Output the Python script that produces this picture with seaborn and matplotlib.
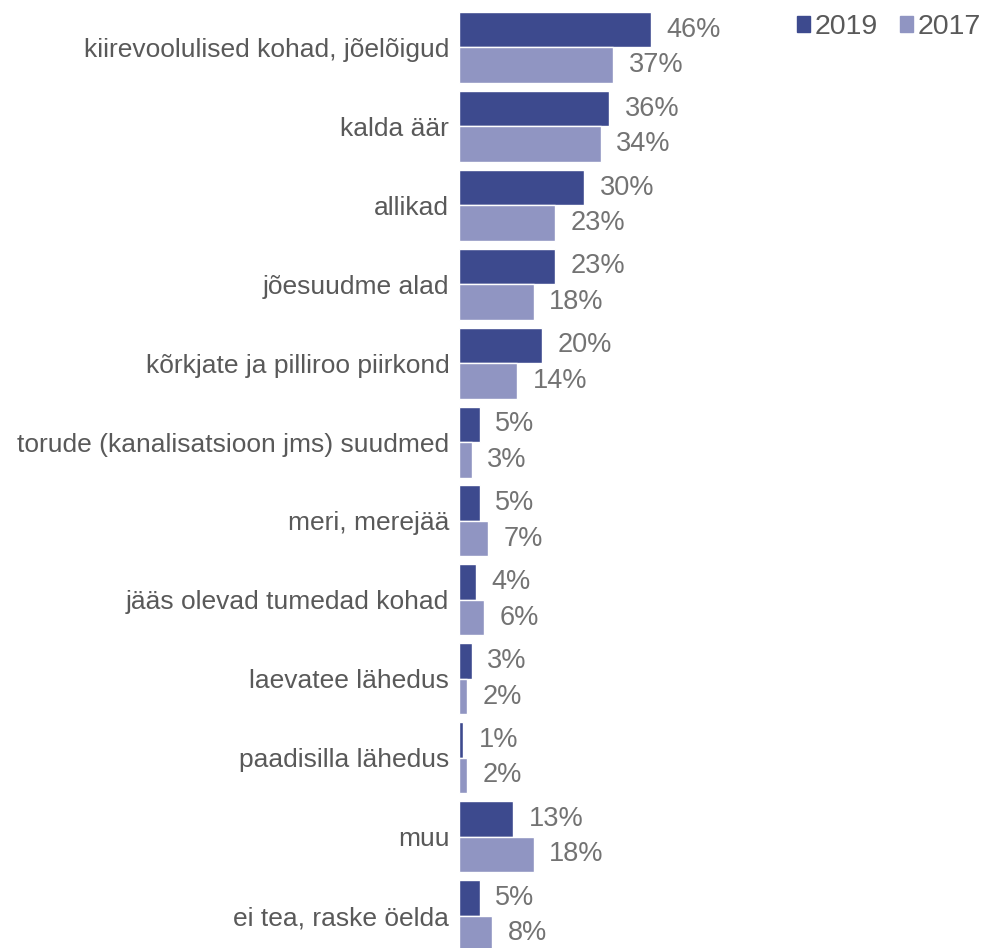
import pandas as pd
import matplotlib.pyplot as plt
import seaborn as sns
from matplotlib.patches import Patch

# andmed
kohad = ['kiirevoolulised kohad, jõelõigud', 'kalda äär', 'allikad', 'jõesuudme alad',
         'kõrkjate ja pilliroo piirkond', 'torude (kanalisatsioon jms) suudmed', 'meri, merejää',
         'jääs olevad tumedad kohad', 'laevatee lähedus', 'paadisilla lähedus', 'muu',
         'ei tea, raske öelda']
aasta_2019 = [46, 36, 30, 23, 20, 5, 5, 4, 3, 1, 13, 5]
aasta_2017 = [37, 34, 23, 18, 14, 3, 7, 6, 2, 2, 18, 8]
aastad = ['2019', '2017']

df = pd.DataFrame({
    'koht': kohad * 2,
    'protsent': aasta_2019 + aasta_2017,
    'aasta': [aastad[0]] * len(kohad) + [aastad[1]] * len(kohad),
})

sns.set_theme(style='white')
plt.rcParams['font.family'] = ['Liberation Sans', 'DejaVu Sans']

fig = plt.figure(figsize=(9.83, 9.48), dpi=100)
ax = fig.add_axes([459 / 983, -7 / 948, 524 / 983, 947 / 948])

sns.barplot(data=df, y='koht', x='protsent', hue='aasta', orient='h',
            palette={'2019': '#3D4A8E', '2017': '#9095C2'},
            width=0.9, gap=0, saturation=1, ax=ax, legend=False)

for cont in ax.containers:
    ax.bar_label(cont, labels=[f'{int(v)}%' for v in cont.datavalues],
                 padding=11, fontsize=19.5, color='#737373')

ax.set_xlim(0, 125.6)
ax.set_ylim(11.5, -0.5)
ax.set_xlabel('')
ax.set_ylabel('')
ax.set_xticks([])
ax.tick_params(axis='y', length=0, pad=7, labelsize=19, labelcolor='#595959')
sns.despine(ax=ax, left=True, bottom=True)

# legend
handles = [Patch(color='#3D4A8E', label='2019'), Patch(color='#9095C2', label='2017')]
leg = fig.legend(handles=handles, loc='upper right', bbox_to_anchor=(1.012, 1.0), ncol=2,
                 frameon=False, fontsize=20.5, handlelength=0.45, handleheight=0.45,
                 handletextpad=0.15, columnspacing=0.8, borderaxespad=0.1)
for t in leg.get_texts():
    t.set_color('#595959')

plt.savefig('out.png', dpi=100)
